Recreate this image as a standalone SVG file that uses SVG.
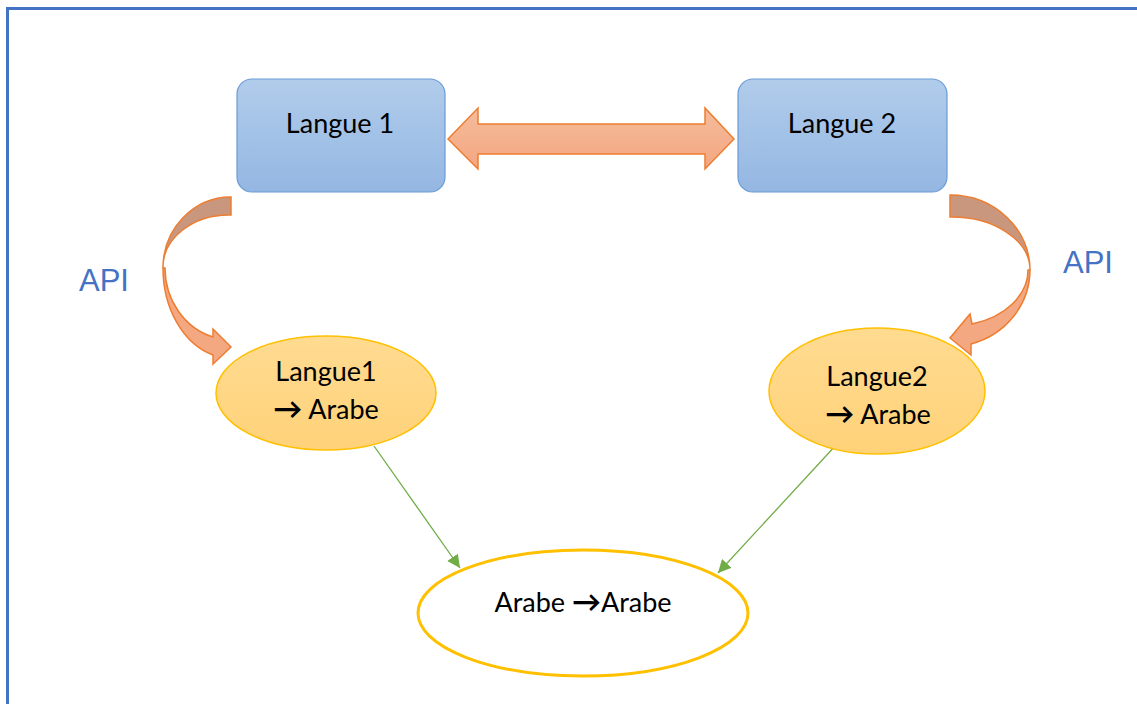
<svg xmlns="http://www.w3.org/2000/svg" width="1137" height="704" viewBox="0 0 1137 704">
<style>
.lbl{font-family:Lato,"Open Sans","DejaVu Sans",sans-serif;font-size:27px;fill:#000;text-anchor:middle}
.arw{font-weight:bold;font-size:29px}
.api{font-family:"Liberation Sans",Arial,sans-serif;font-size:31px;fill:#4472C4}
.box{fill:url(#gBlue);stroke:#6A9BD5;stroke-width:1.2}
.ell{fill:url(#gGold);stroke:#FFC000;stroke-width:1.5}
.orng{stroke:#ED7D31;stroke-width:1.5;stroke-linejoin:miter}
.green{stroke:#70AD47;stroke-width:1.3;fill:none;marker-end:url(#ah)}
</style>
<defs>
<linearGradient id="gBlue" x1="0" y1="0" x2="0" y2="1"><stop offset="0" stop-color="#B1CCEB"/><stop offset="1" stop-color="#94B7E2"/></linearGradient>
<linearGradient id="gGold" x1="0" y1="0" x2="0" y2="1"><stop offset="0" stop-color="#FFDB91"/><stop offset="1" stop-color="#FFD279"/></linearGradient>
<linearGradient id="gOr" x1="0" y1="0" x2="0" y2="1"><stop offset="0" stop-color="#F5BC9C"/><stop offset="1" stop-color="#F4A680"/></linearGradient>
<marker id="ah" viewBox="0 0 10 10" refX="10" refY="5" markerWidth="13" markerHeight="13" markerUnits="userSpaceOnUse" orient="auto"><path d="M0,0 L10,5 L0,10 Z" fill="#70AD47"/></marker>
</defs>
<rect width="1137" height="704" fill="#fff"/>
<path d="M7.5,704 V8.5 H1137" fill="none" stroke="#4472C4" stroke-width="3"/>

<g id="connectors">
<path id="dbl" class="orng" fill="url(#gOr)" d="M448,139 L478,108 L478,124 L705,124 L705,108 L734,139 L705,169 L705,154 L478,154 L478,169 Z"/>
<g id="curveL">
<path class="orng" fill="#C9977D" d="M231,197 A68,71 0 0 0 163,268 A66,52 0 0 1 231,215 Z"/>
<path class="orng" fill="#F4A882" d="M163,268 A68,90 0 0 0 213,355 L213,364 L231,347 L213,329 L213,337 A66,72 0 0 1 165,268 Z"/>
</g>
<g id="curveR">
<path class="orng" fill="#C9977D" d="M950,195 A80,75 0 0 1 1030,270 A78,53 0 0 0 950,217 Z"/>
<path class="orng" fill="#F4A882" d="M1030,270 A80,77 0 0 1 971,344 L971,355 L950,338 L970,314 L972,324 A78,56 0 0 0 1028,270 Z"/>
</g>
<path class="green" d="M374,446 L460,568"/>
<path class="green" d="M837,444 L718,573"/>
</g>

<g id="langue1"><rect class="box" x="237" y="79" width="208" height="113" rx="15"/><text class="lbl" x="340" y="133">Langue 1</text></g>
<g id="langue2"><rect class="box" x="738" y="79" width="209" height="113" rx="15"/><text class="lbl" x="842" y="133">Langue 2</text></g>
<g id="apiL"><text class="api" x="79" y="291">API</text></g>
<g id="apiR"><text class="api" x="1063" y="273">API</text></g>
<g id="l1ar"><ellipse class="ell" cx="326" cy="393" rx="110" ry="57"/><text class="lbl" x="326" y="381">Langue1</text><text class="lbl" x="326" y="419"><tspan class="arw">→</tspan> Arabe</text></g>
<g id="l2ar"><ellipse class="ell" cx="877" cy="391" rx="108" ry="63"/><text class="lbl" x="877" y="386">Langue2</text><text class="lbl" x="878" y="424"><tspan class="arw">→</tspan> Arabe</text></g>
<g id="arar"><ellipse cx="583" cy="613" rx="165" ry="63" fill="#fff" stroke="#FFC000" stroke-width="3"/><text class="lbl" x="583" y="612">Arabe <tspan class="arw">→</tspan>Arabe</text></g>
</svg>
